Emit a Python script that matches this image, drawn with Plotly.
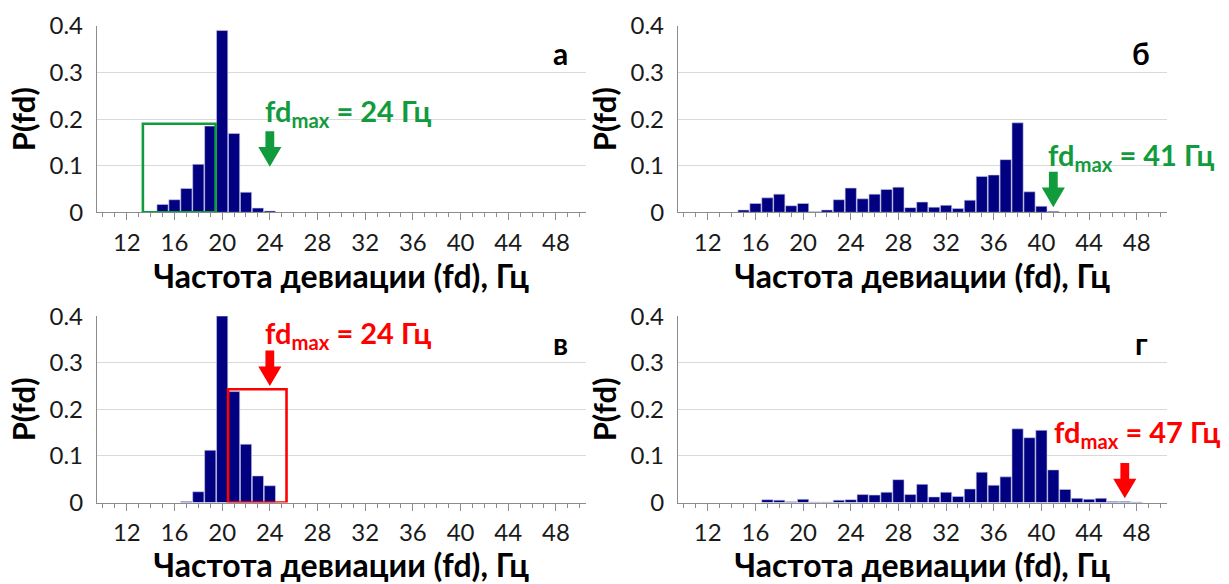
import plotly.graph_objects as go

# ---------------- data ----------------
fd_a = list(range(15, 25))
p_a = [0.017, 0.027, 0.051, 0.103, 0.185, 0.390, 0.169, 0.043, 0.009, 0.003]

fd_b = list(range(15, 42))
p_b = [0.005, 0.019, 0.031, 0.039, 0.014, 0.019, 0.001, 0.005, 0.027, 0.052,
       0.029, 0.039, 0.049, 0.054, 0.010, 0.022, 0.011, 0.015, 0.008, 0.026,
       0.077, 0.080, 0.113, 0.192, 0.044, 0.013, 0.002]

fd_c = list(range(17, 25))
p_c = [0.002, 0.023, 0.112, 0.400, 0.238, 0.125, 0.057, 0.036]

fd_d = list(range(17, 49))
p_d = [0.006, 0.005, 0.0015, 0.007, 0.001, 0.001, 0.005, 0.006, 0.017, 0.016,
       0.022, 0.049, 0.017, 0.039, 0.012, 0.022, 0.013, 0.029, 0.065, 0.037,
       0.055, 0.158, 0.139, 0.155, 0.070, 0.028, 0.009, 0.007, 0.009, 0.002,
       0.002, 0.001]

panel_letters = ["а", "б", "в", "г"]
fd_max = [24, 41, 24, 47]
arrow_tip = [0.098, 0.011, 0.250, 0.009]
box_a = [13.35, 19.45, 0.19]   # x0, x1, top
box_c = [20.5, 25.4, 0.243]

tick_vals = list(range(12, 49, 4))
y_ticks = [0, 0.1, 0.2, 0.3, 0.4]

# ---------------- style ----------------
FONT = "Lato, 'Open Sans', sans-serif"
NAVY = "#000080"
GREEN = "#129b3d"
RED = "#ff0000"
GRID = "#d9d9d9"
AXIS = "#8c8c8c"

W, H = 1229, 584
xdom_left = [97 / W, 585.7 / W]
xdom_right = [678 / W, 1166.5 / W]
ydom_top = [1 - 212.3 / H, 1 - 25.9 / H]
ydom_bot = [1 - 502.5 / H, 1 - 316.1 / H]

fig = go.Figure()

series = [(fd_a, p_a), (fd_b, p_b), (fd_c, p_c), (fd_d, p_d)]
for i, (xs, ys) in enumerate(series):
    sfx = "" if i == 0 else str(i + 1)
    fig.add_trace(go.Bar(
        x=xs, y=ys, xaxis="x" + sfx, yaxis="y" + sfx,
        marker=dict(color=NAVY, line=dict(color="#c9c9e6", width=0.6)),
        width=0.94, showlegend=False,
        hovertemplate="fd=%{x} Гц<br>P=%{y}<extra></extra>",
    ))

xtitle = "<b>Частота девиации (fd), Гц</b>"
ytitle = "<b>P(fd)</b>"


def xaxis(dom, anchor):
    return dict(
        domain=dom, anchor=anchor, range=[9.5, 50.5], automargin=False,
        tickmode="array", tickvals=tick_vals, ticktext=[str(v) for v in tick_vals],
        ticks="outside", ticklen=7, tickcolor=AXIS, tickwidth=1,
        minor=dict(dtick=1, tick0=10, ticks="outside", ticklen=4,
                   tickcolor=AXIS, tickwidth=1, showgrid=False),
        showline=True, linecolor=AXIS, linewidth=1.3,
        showgrid=False, zeroline=False,
        tickfont=dict(family=FONT, size=24, color="#1a1a1a"),
        ticklabelstandoff=2,
        title=dict(text=xtitle, font=dict(family=FONT, size=32, color="#000"), standoff=5),
        fixedrange=True,
    )


def yaxis(dom, anchor):
    return dict(
        domain=dom, anchor=anchor, range=[0, 0.4], automargin=False,
        tickmode="array", tickvals=y_ticks, ticktext=["0", "0.1", "0.2", "0.3", "0.4"],
        ticks="", showline=True, linecolor=AXIS, linewidth=1.3,
        showgrid=True, gridcolor=GRID, gridwidth=1.2, zeroline=False,
        tickfont=dict(family=FONT, size=24, color="#1a1a1a"),
        ticklabelstandoff=8,
        title=dict(text=ytitle, font=dict(family=FONT, size=31, color="#000"), standoff=4),
        fixedrange=True,
    )


fig.update_layout(
    width=W, height=H,
    margin=dict(l=0, r=0, t=0, b=0, autoexpand=False),
    paper_bgcolor="white", plot_bgcolor="white",
    bargap=0.05,
    xaxis=xaxis(xdom_left, "y"), yaxis=yaxis(ydom_top, "x"),
    xaxis2=xaxis(xdom_right, "y2"), yaxis2=yaxis(ydom_top, "x2"),
    xaxis3=xaxis(xdom_left, "y3"), yaxis3=yaxis(ydom_bot, "x3"),
    xaxis4=xaxis(xdom_right, "y4"), yaxis4=yaxis(ydom_bot, "x4"),
    font=dict(family=FONT),
)

# highlight boxes
fig.add_shape(type="rect", xref="x", yref="y", x0=box_a[0], x1=box_a[1], y0=0, y1=box_a[2],
              line=dict(color=GREEN, width=2.6), fillcolor="rgba(0,0,0,0)")
fig.add_shape(type="rect", xref="x3", yref="y3", x0=box_c[0], x1=box_c[1], y0=0, y1=box_c[2],
              line=dict(color=RED, width=2.6), fillcolor="rgba(0,0,0,0)")

# arrows (block arrows pointing down to fd_max)
colors = [GREEN, GREEN, RED, RED]
ARROW_LEN, HEAD_LEN, SHAFT_HW, HEAD_HW = 0.076, 0.042, 0.37, 0.97
for i in range(4):
    sfx = "" if i == 0 else str(i + 1)
    x, yt = fd_max[i], arrow_tip[i]
    yh = yt + HEAD_LEN
    ytop = yt + ARROW_LEN
    path = (f"M {x - SHAFT_HW} {ytop} L {x + SHAFT_HW} {ytop} L {x + SHAFT_HW} {yh} "
            f"L {x + HEAD_HW} {yh} L {x} {yt} L {x - HEAD_HW} {yh} L {x - SHAFT_HW} {yh} Z")
    fig.add_shape(type="path", path=path, xref="x" + sfx, yref="y" + sfx,
                  fillcolor=colors[i], line=dict(width=0))

# fd_max labels
label_pos = [(23.45, 0.215), (40.42, 0.119), (23.4, 0.361), (40.92, 0.148)]
for i in range(4):
    sfx = "" if i == 0 else str(i + 1)
    fig.add_annotation(
        x=label_pos[i][0], y=label_pos[i][1], xref="x" + sfx, yref="y" + sfx,
        text=f"<b>fd<sub>max</sub> = {fd_max[i]} Гц</b>", showarrow=False,
        xanchor="left", yanchor="middle",
        font=dict(family=FONT, size=29, color=colors[i]),
    )

# panel letters
for i in range(4):
    sfx = "" if i == 0 else str(i + 1)
    fig.add_annotation(
        x=48.4, y=0.342, xref="x" + sfx, yref="y" + sfx,
        text=f"<b>{panel_letters[i]}</b>", showarrow=False,
        xanchor="center", yanchor="middle",
        font=dict(family=FONT, size=30, color="#000"),
    )

fig.write_html(
    "out.html",
    config={"displayModeBar": False},
    post_script="document.body.style.margin='0';document.body.style.overflow='hidden';",
)
